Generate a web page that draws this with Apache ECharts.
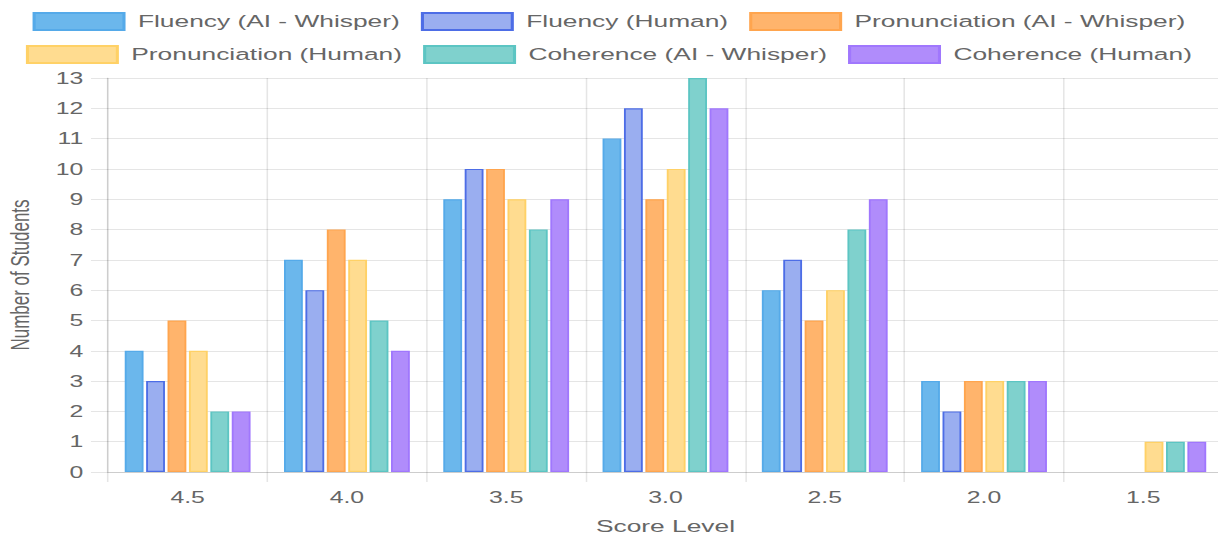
<!DOCTYPE html>
<html>
<head>
<meta charset="utf-8">
<script src="https://cdn.jsdelivr.net/npm/echarts@6/dist/echarts.min.js"></script>
<style>
  html, body { margin: 0; padding: 0; background: #ffffff; overflow: hidden; }
  #wrap { width: 1218px; height: 541px; overflow: hidden; position: relative; }
  /* chart is laid out narrower and widened horizontally */
  #chart { width: 786px; height: 541px; transform: scaleX(1.5496); transform-origin: 0 0; }
</style>
</head>
<body>
<div id="wrap"><div id="chart"></div></div>
<script>
// Score levels on the x axis
const scoreLevels = ['4.5', '4.0', '3.5', '3.0', '2.5', '2.0', '1.5'];

// Number of students per score level
const fluencyAI = [4, 7, 9, 11, 6, 3, 0];
const fluencyHuman = [3, 6, 10, 12, 7, 2, 0];
const pronunciationAI = [5, 8, 10, 9, 5, 3, 0];
const pronunciationHuman = [4, 7, 9, 10, 6, 3, 1];
const coherenceAI = [2, 5, 8, 13, 8, 3, 1];
const coherenceHuman = [2, 4, 9, 12, 9, 3, 1];

const seriesNames = [
  'Fluency (AI - Whisper)', 'Fluency (Human)', 'Pronunciation (AI - Whisper)',
  'Pronunciation (Human)', 'Coherence (AI - Whisper)', 'Coherence (Human)'
];
const seriesValues = [fluencyAI, fluencyHuman, pronunciationAI, pronunciationHuman, coherenceAI, coherenceHuman];
const fills = ['#6bb7ec', '#9aaef0', '#ffb46c', '#ffdc90', '#7fd1cd', '#b08cfb'];
const borders = ['#55aae9', '#4d6de6', '#ffa54e', '#ffd166', '#5cc5c3', '#a077fd'];

const FONT = "'Liberation Sans', Arial, Helvetica, sans-serif";
const TEXT = '#666666';
const LINE = 'rgba(0,0,0,0.1)';

const series = seriesNames.map((name, i) => ({
  name: name,
  type: 'bar',
  barGap: '13.7%',
  barCategoryGap: '21%',
  itemStyle: { color: fills[i], borderColor: borders[i], borderWidth: 1.2 },
  emphasis: { disabled: true },
  data: seriesValues[i].map(v => v === 0 ? { value: v, itemStyle: { borderWidth: 0 } } : v)
}));

const legendCommon = {
  left: 'center',
  orient: 'horizontal',
  itemWidth: 58,
  itemHeight: 17,
  itemGap: 13.5,
  icon: 'rect',
  selectedMode: false,
  textStyle: { color: TEXT, fontSize: 17, fontFamily: FONT, padding: [0, 0, 0, 4] }
};

const chart = echarts.init(document.getElementById('chart'), null, { renderer: 'svg' });
chart.setOption({
  animation: false,
  backgroundColor: '#ffffff',
  legend: [
    Object.assign({}, legendCommon, { top: 7, data: seriesNames.slice(0, 3) }),
    Object.assign({}, legendCommon, { top: 40, data: seriesNames.slice(3, 6) })
  ],
  grid: { left: 69.7, right: -3.2, top: 78, bottom: 69, containLabel: false, outerBoundsMode: 'none' },
  xAxis: {
    type: 'category',
    data: scoreLevels,
    name: 'Score Level',
    nameLocation: 'middle',
    nameGap: 46,
    nameTextStyle: { color: TEXT, fontSize: 17, fontFamily: FONT },
    axisLine: { show: true, lineStyle: { color: LINE, width: 1 } },
    axisTick: { show: true, length: 10, lineStyle: { color: LINE } },
    axisLabel: { color: TEXT, fontSize: 16, fontFamily: FONT, margin: 17 },
    splitLine: { show: true, lineStyle: { color: LINE, width: 1 } }
  },
  yAxis: {
    type: 'value',
    min: 0,
    max: 13,
    interval: 1,
    name: 'Number of Students',
    nameLocation: 'middle',
    nameGap: 48,
    nameTextStyle: { color: TEXT, fontSize: 17, fontFamily: FONT },
    axisLine: { show: true, lineStyle: { color: LINE, width: 1 } },
    axisTick: { show: true, length: 11, lineStyle: { color: LINE } },
    axisLabel: { color: TEXT, fontSize: 16, fontFamily: FONT, margin: 16 },
    splitLine: { show: true, lineStyle: { color: LINE, width: 1 } }
  },
  series: series
});
</script>
</body>
</html>
